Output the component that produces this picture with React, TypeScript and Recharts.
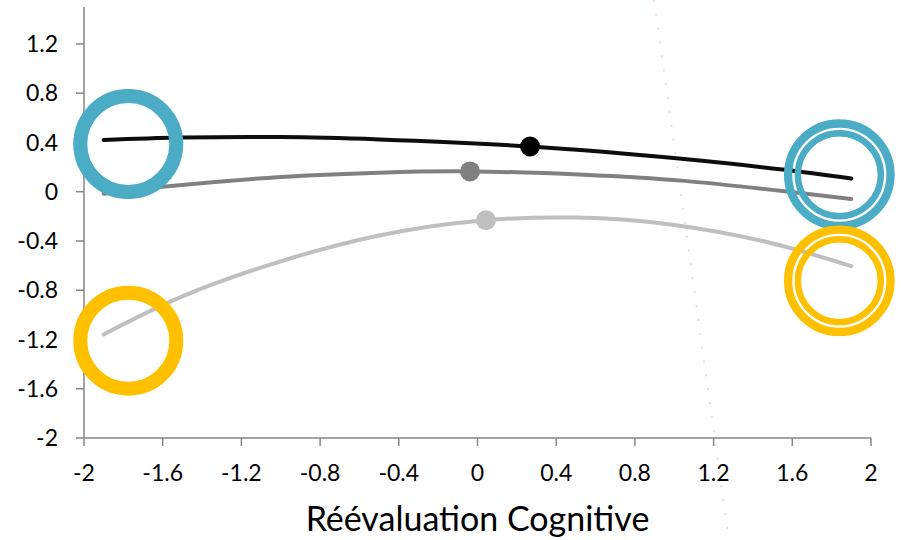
import React from 'react';
import { ComposedChart, Line, Scatter, XAxis, YAxis, ReferenceLine } from 'recharts';

// courbes (x = réévaluation cognitive, y = effet)
const blackLine = [
  { x: -1.9, y: 0.42 },
  { x: -1.5, y: 0.44 },
  { x: -1.0, y: 0.444 },
  { x: -0.5, y: 0.425 },
  { x: 0.27, y: 0.367 },
  { x: 1.05, y: 0.265 },
  { x: 1.55, y: 0.18 },
  { x: 1.9, y: 0.108 },
];

const grayLine = [
  { x: -1.9, y: -0.016 },
  { x: -1.6, y: 0.041 },
  { x: -1.0, y: 0.12 },
  { x: -0.5, y: 0.155 },
  { x: -0.04, y: 0.165 },
  { x: 0.54, y: 0.138 },
  { x: 1.05, y: 0.088 },
  { x: 1.55, y: 0.005 },
  { x: 1.9, y: -0.059 },
];

const lightLine = [
  { x: -1.9, y: -1.159 },
  { x: -1.5, y: -0.85 },
  { x: -1.0, y: -0.565 },
  { x: -0.5, y: -0.355 },
  { x: 0.0, y: -0.237 },
  { x: 0.5, y: -0.21 },
  { x: 1.0, y: -0.27 },
  { x: 1.5, y: -0.42 },
  { x: 1.9, y: -0.605 },
];

const blackDot = [{ x: 0.267, y: 0.367 }];
const grayDot = [{ x: -0.038, y: 0.165 }];
const lightDot = [{ x: 0.043, y: -0.232 }];

const thickRings = [
  { x: -1.775, y: 0.387, color: '#4BACC6' },
  { x: -1.775, y: -1.21, color: '#FFC000' },
];
const doubleRings = [
  { x: 1.839, y: 0.138, color: '#4BACC6' },
  { x: 1.839, y: -0.723, color: '#FFC000' },
];

const xTicks = [-2, -1.6, -1.2, -0.8, -0.4, 0, 0.4, 0.8, 1.2, 1.6, 2];
const yTicks = [-2, -1.6, -1.2, -0.8, -0.4, 0, 0.4, 0.8, 1.2];

const FONT = 'Lato, "Open Sans", sans-serif';
const AXIS = '#868686';

const ThickRing = (props: any) => {
  const { cx, cy, payload } = props;
  return <circle cx={cx} cy={cy} r={48} fill="none" stroke={payload.color} strokeWidth={14} />;
};

const DoubleRing = (props: any) => {
  const { cx, cy, payload } = props;
  return (
    <g>
      <circle cx={cx} cy={cy} r={51.2} fill="none" stroke={payload.color} strokeWidth={8.3} />
      <circle cx={cx} cy={cy} r={41.5} fill="none" stroke={payload.color} strokeWidth={6.4} />
    </g>
  );
};

const makeDot = (color: string) => (props: any) => {
  const { cx, cy } = props;
  return <circle cx={cx} cy={cy} r={10} fill={color} />;
};

export default function App() {
  return (
    <div style={{ position: 'fixed', left: 0, top: 0, background: '#fff', fontFamily: FONT }}>
      <ComposedChart width={901} height={540} margin={{ top: 7, right: 30, left: 0, bottom: 0 }}>
        <XAxis
          type="number"
          dataKey="x"
          domain={[-2, 2]}
          ticks={xTicks}
          stroke={AXIS}
          strokeWidth={1.5}
          tickSize={8}
          tickMargin={19}
          height={102}
          tick={{ fill: '#000', fontSize: 23, fontFamily: FONT }}
          label={{ value: 'Réévaluation Cognitive', position: 'insideBottom', offset: 9, fill: '#000', fontSize: 34, fontFamily: FONT }}
        />
        <YAxis
          type="number"
          dataKey="y"
          domain={[-2, 1.5]}
          ticks={yTicks}
          stroke={AXIS}
          strokeWidth={1.5}
          tickSize={8}
          tickMargin={18}
          width={84}
          tick={{ fill: '#000', fontSize: 23, fontFamily: FONT }}
        />
        <ReferenceLine
          segment={[{ x: 0.897, y: 1.557 }, { x: 1.278, y: -2.829 }]}
          stroke="#f6d6cc"
          strokeWidth={2}
          strokeDasharray="2 12"
          ifOverflow="visible"
        />
        <Scatter data={doubleRings} shape={<DoubleRing />} isAnimationActive={false} />
        <Line data={lightLine} dataKey="y" type="natural" stroke="#BFBFBF" strokeWidth={4} strokeLinecap="round" dot={false} activeDot={false} isAnimationActive={false} />
        <Line data={grayLine} dataKey="y" type="natural" stroke="#808080" strokeWidth={4} strokeLinecap="round" dot={false} activeDot={false} isAnimationActive={false} />
        <Line data={blackLine} dataKey="y" type="natural" stroke="#0d0d0d" strokeWidth={4} strokeLinecap="round" dot={false} activeDot={false} isAnimationActive={false} />
        <Scatter data={lightDot} shape={makeDot('#BFBFBF')} isAnimationActive={false} />
        <Scatter data={grayDot} shape={makeDot('#808080')} isAnimationActive={false} />
        <Scatter data={blackDot} shape={makeDot('#000000')} isAnimationActive={false} />
        <Scatter data={thickRings} shape={<ThickRing />} isAnimationActive={false} />
      </ComposedChart>
    </div>
  );
}
